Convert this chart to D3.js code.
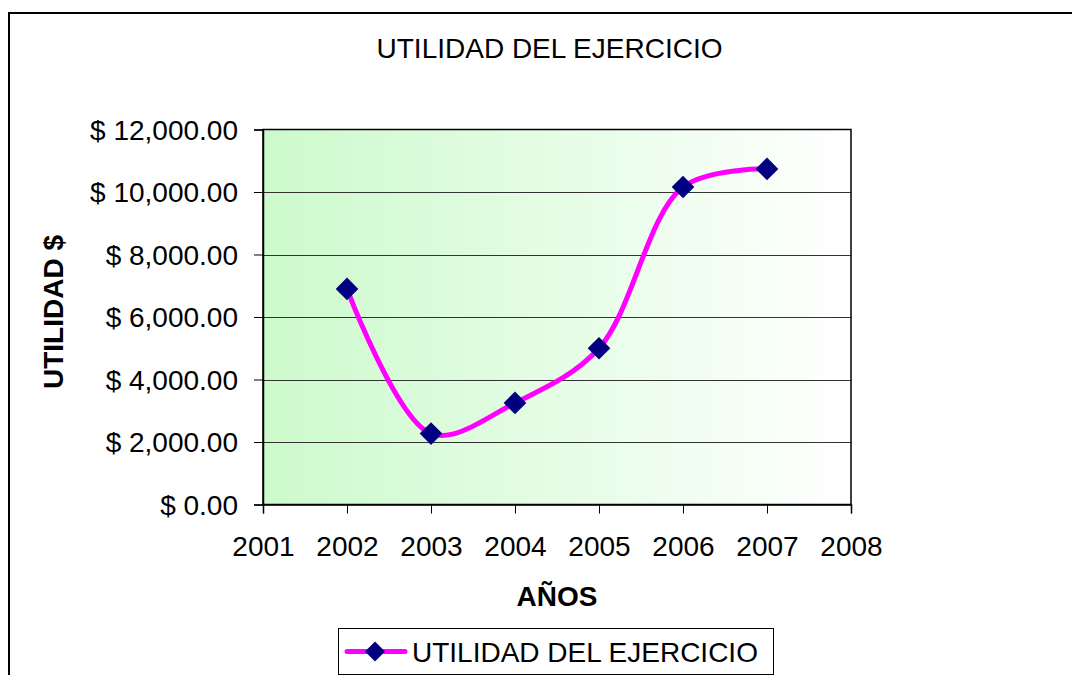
<!DOCTYPE html>
<html>
<head>
<meta charset="utf-8">
<script src="https://cdn.jsdelivr.net/npm/d3@7"></script>
<style>
  html, body { margin: 0; padding: 0; background: #fff; }
  svg { display: block; font-family: "Liberation Sans", Arial, sans-serif; }
</style>
</head>
<body>
<svg id="chart" width="1072" height="675"></svg>
<script>
const years = [2002, 2003, 2004, 2005, 2006, 2007];
const utilidad = [6900, 2270, 3250, 5000, 10160, 10740];
const yTicks = [0, 2000, 4000, 6000, 8000, 10000, 12000];
const xTicks = [2001, 2002, 2003, 2004, 2005, 2006, 2007, 2008];
const chartTitle = "UTILIDAD DEL EJERCICIO";
const seriesName = "UTILIDAD DEL EJERCICIO";
const xTitle = "AÑOS";
const yTitle = "UTILIDAD $";

const svg = d3.select("#chart");
const plot = { left: 263, right: 851, top: 129.5, bottom: 504.5 };

const x = d3.scaleLinear().domain([2001, 2008]).range([plot.left, plot.right]);
const y = d3.scaleLinear().domain([0, 12000]).range([plot.bottom, plot.top]);

// outer border
svg.append("rect").attr("x", 9).attr("y", 13).attr("width", 1100).attr("height", 700)
  .attr("fill", "none").attr("stroke", "#000").attr("stroke-width", 2);

// gradient
const defs = svg.append("defs");
const grad = defs.append("linearGradient").attr("id", "bg").attr("x1", "0").attr("x2", "1").attr("y1", "0").attr("y2", "0");
grad.append("stop").attr("offset", "0").attr("stop-color", "#ccfacc");
grad.append("stop").attr("offset", "1").attr("stop-color", "#ffffff");

svg.append("rect").attr("x", plot.left).attr("y", plot.top)
  .attr("width", plot.right - plot.left).attr("height", plot.bottom - plot.top)
  .attr("fill", "url(#bg)");

// gridlines
svg.append("g").selectAll("line").data(yTicks.filter(d => d > 0 && d < 12000)).join("line")
  .attr("x1", plot.left).attr("x2", plot.right)
  .attr("y1", d => Math.round(y(d)) + 0.5).attr("y2", d => Math.round(y(d)) + 0.5)
  .attr("stroke", "#333").attr("stroke-width", 1);

// plot border
svg.append("rect").attr("x", plot.left).attr("y", plot.top)
  .attr("width", plot.right - plot.left).attr("height", plot.bottom - plot.top)
  .attr("fill", "none").attr("stroke", "#000").attr("stroke-width", 1.5);

// axes
const fmt = d => "$ " + d3.format(",.2f")(d);
const yAxis = d3.axisLeft(y).tickValues(yTicks).tickFormat(fmt).tickSize(9).tickPadding(16);
const gy = svg.append("g").attr("transform", `translate(${plot.left},0)`).call(yAxis);
gy.select(".domain").attr("stroke", "#000").attr("stroke-width", 1.5);
gy.selectAll(".tick line").attr("stroke", "#000");
gy.selectAll(".tick text").attr("font-size", 28).attr("fill", "#000")
  .attr("font-family", "Liberation Sans, Arial, sans-serif").attr("dy", "0.35em");

const xAxis = d3.axisBottom(x).tickValues(xTicks).tickFormat(d3.format("d")).tickSize(9).tickPadding(0);
const gx = svg.append("g").attr("transform", `translate(0,${plot.bottom})`).call(xAxis);
gx.select(".domain").attr("stroke", "#000").attr("stroke-width", 1.5);
gx.selectAll(".tick line").attr("stroke", "#000");
gx.selectAll(".tick text").attr("font-size", 28).attr("fill", "#000")
  .attr("font-family", "Liberation Sans, Arial, sans-serif").attr("y", 51).attr("dy", 0);

// line
const data = years.map((yr, i) => ({ yr, v: utilidad[i] }));
const line = d3.line().x(d => x(d.yr)).y(d => y(d.v)).curve(d3.curveCatmullRom.alpha(0.5));
svg.append("path").datum(data).attr("d", line).attr("fill", "none")
  .attr("stroke", "#ff00ff").attr("stroke-width", 5).attr("stroke-linejoin", "round");

// markers
const diamond = d3.symbol().type(d3.symbolSquare).size(256);
svg.append("g").selectAll("path").data(data).join("path")
  .attr("d", diamond())
  .attr("transform", d => `translate(${x(d.yr)},${y(d.v)}) rotate(45)`)
  .attr("fill", "#000080");

// titles
svg.append("text").attr("x", 549.5).attr("y", 58).attr("text-anchor", "middle")
  .attr("font-size", 28).text(chartTitle);
svg.append("text").attr("x", (plot.left + plot.right) / 2).attr("y", 606).attr("text-anchor", "middle")
  .attr("font-size", 28).attr("font-weight", "bold").text(xTitle);
svg.append("text").attr("transform", "translate(63,312) rotate(-90)").attr("text-anchor", "middle")
  .attr("font-size", 28).attr("font-weight", "bold").text(yTitle);

// legend
const lg = svg.append("g");
lg.append("rect").attr("x", 338.5).attr("y", 628.5).attr("width", 435).attr("height", 46)
  .attr("fill", "#fff").attr("stroke", "#000").attr("stroke-width", 1);
lg.append("line").attr("x1", 347).attr("x2", 405).attr("y1", 651.5).attr("y2", 651.5)
  .attr("stroke", "#ff00ff").attr("stroke-width", 5).attr("stroke-linecap", "round");
lg.append("path").attr("d", d3.symbol().type(d3.symbolSquare).size(200)())
  .attr("transform", "translate(375,651.5) rotate(45)").attr("fill", "#000080");
lg.append("text").attr("x", 412).attr("y", 662).attr("font-size", 28).text(seriesName);
</script>
</body>
</html>
